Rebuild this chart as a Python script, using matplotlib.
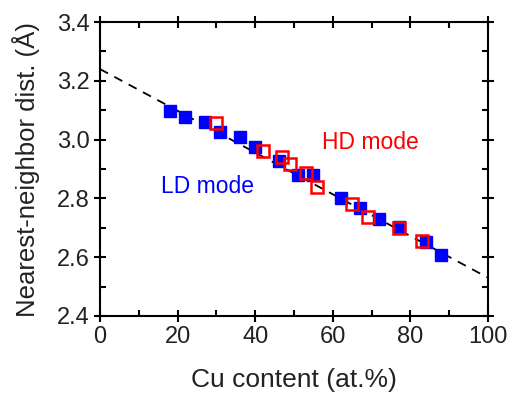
import matplotlib.pyplot as plt
import numpy as np
from matplotlib.ticker import MultipleLocator

plt.rcParams['font.family'] = ['Liberation Sans', 'DejaVu Sans']

# LD mode (filled blue)
ld_cu = [18, 22, 27, 31, 36, 40, 46, 51, 55, 62, 67, 72, 77, 84, 88]
ld_dist = [3.096, 3.076, 3.059, 3.025, 3.010, 2.974, 2.927, 2.880, 2.880,
           2.800, 2.766, 2.729, 2.704, 2.653, 2.607]

# HD mode (open red)
hd_cu = [30, 42, 47, 49, 53, 56, 65, 69, 77, 83]
hd_dist = [3.055, 2.961, 2.942, 2.917, 2.887, 2.838, 2.781, 2.736, 2.700, 2.656]

# linear guide line
fit_intercept = 3.24
fit_slope = -0.0071

fig = plt.figure(figsize=(5.14, 3.94), dpi=100)
ax = fig.add_axes([0.1946, 0.198, 0.7549, 0.746])

xs = np.array([0, 100])
ax.plot(xs, fit_intercept + fit_slope * xs, color='black', ls=(0, (5, 4)), lw=1.3, zorder=1)
ax.plot(ld_cu, ld_dist, 's', color='#0000ff', ms=9, mec='#0000ff', zorder=2)
ax.plot(hd_cu, hd_dist, 's', mfc='none', mec='#ff0000', ms=8.3, mew=1.8, zorder=3)

ax.text(69.6, 2.99, 'HD mode', color='#ff0000', fontsize=16.5, ha='center', va='center')
ax.text(27.8, 2.84, 'LD mode', color='#0000ff', fontsize=16.5, ha='center', va='center')

ax.set_xlim(0, 100)
ax.set_ylim(2.4, 3.4)
ax.xaxis.set_major_locator(MultipleLocator(20))
ax.xaxis.set_minor_locator(MultipleLocator(10))
ax.yaxis.set_major_locator(MultipleLocator(0.2))
ax.yaxis.set_minor_locator(MultipleLocator(0.1))
ax.yaxis.set_major_formatter(plt.FormatStrFormatter('%.1f'))

ax.tick_params(which='major', direction='inout', length=8, width=1.5, labelsize=17,
               labelcolor='#222222', top=True, right=True)
ax.tick_params(which='minor', direction='in', length=4, width=1.5, top=True, right=True)
for s in ax.spines.values():
    s.set_linewidth(1.5)

ax.set_xlabel('Cu content (at.%)', fontsize=19, labelpad=14, color='#222222')
ax.set_ylabel('Nearest-neighbor dist. (Å)', fontsize=18.5, labelpad=12, color='#222222')

fig.savefig('out.png', dpi=100)
